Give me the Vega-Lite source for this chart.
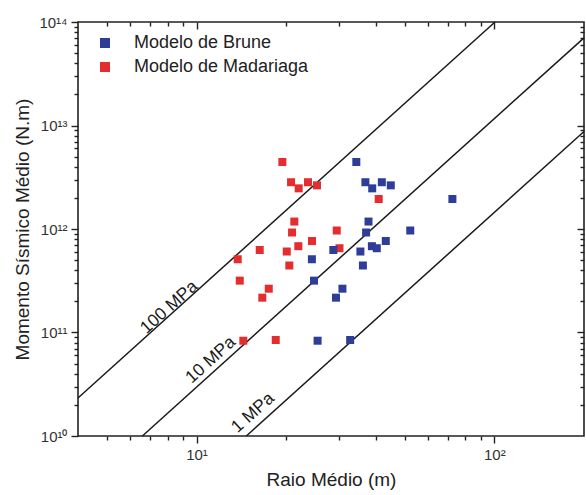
{
  "$schema": "https://vega.github.io/schema/vega-lite/v6.json",
  "width": 506,
  "height": 414,
  "autosize": "none",
  "padding": {"left": 78, "top": 22, "right": 2, "bottom": 59},
  "background": "white",
  "config": {
    "font": "Liberation Sans",
    "view": {"stroke": "#222", "strokeWidth": 1.6},
    "axis": {"grid": false, "domain": false, "tickColor": "#222", "tickWidth": 1.4, "labelColor": "#333", "titleColor": "#222", "titleFontWeight": "normal"}
  },
  "datasets": {
    "pts": [
      {"model": "Modelo de Madariaga", "r": 19.42, "M": 4.44e12},
      {"model": "Modelo de Madariaga", "r": 20.77, "M": 2.83e12},
      {"model": "Modelo de Madariaga", "r": 22.03, "M": 2.47e12},
      {"model": "Modelo de Madariaga", "r": 23.68, "M": 2.83e12},
      {"model": "Modelo de Madariaga", "r": 25.38, "M": 2.64e12},
      {"model": "Modelo de Madariaga", "r": 40.9, "M": 1.95e12},
      {"model": "Modelo de Madariaga", "r": 21.3, "M": 1.18e12},
      {"model": "Modelo de Madariaga", "r": 20.93, "M": 9.25e11},
      {"model": "Modelo de Madariaga", "r": 29.57, "M": 9.67e11},
      {"model": "Modelo de Madariaga", "r": 24.42, "M": 7.66e11},
      {"model": "Modelo de Madariaga", "r": 21.97, "M": 6.82e11},
      {"model": "Modelo de Madariaga", "r": 30.2, "M": 6.52e11},
      {"model": "Modelo de Madariaga", "r": 16.3, "M": 6.27e11},
      {"model": "Modelo de Madariaga", "r": 20.09, "M": 6.06e11},
      {"model": "Modelo de Madariaga", "r": 13.75, "M": 5.1e11},
      {"model": "Modelo de Madariaga", "r": 20.49, "M": 4.44e11},
      {"model": "Modelo de Madariaga", "r": 13.97, "M": 3.17e11},
      {"model": "Modelo de Madariaga", "r": 17.48, "M": 2.65e11},
      {"model": "Modelo de Madariaga", "r": 16.63, "M": 2.17e11},
      {"model": "Modelo de Madariaga", "r": 14.36, "M": 8.33e10},
      {"model": "Modelo de Madariaga", "r": 18.45, "M": 8.46e10},
      {"model": "Modelo de Brune", "r": 34.4, "M": 4.44e12},
      {"model": "Modelo de Brune", "r": 36.9, "M": 2.83e12},
      {"model": "Modelo de Brune", "r": 38.9, "M": 2.47e12},
      {"model": "Modelo de Brune", "r": 41.9, "M": 2.83e12},
      {"model": "Modelo de Brune", "r": 44.9, "M": 2.64e12},
      {"model": "Modelo de Brune", "r": 72.3, "M": 1.95e12},
      {"model": "Modelo de Brune", "r": 37.8, "M": 1.18e12},
      {"model": "Modelo de Brune", "r": 37.1, "M": 9.25e11},
      {"model": "Modelo de Brune", "r": 52.2, "M": 9.67e11},
      {"model": "Modelo de Brune", "r": 43.2, "M": 7.66e11},
      {"model": "Modelo de Brune", "r": 38.8, "M": 6.82e11},
      {"model": "Modelo de Brune", "r": 40.3, "M": 6.52e11},
      {"model": "Modelo de Brune", "r": 28.8, "M": 6.27e11},
      {"model": "Modelo de Brune", "r": 35.5, "M": 6.06e11},
      {"model": "Modelo de Brune", "r": 24.4, "M": 5.1e11},
      {"model": "Modelo de Brune", "r": 36.2, "M": 4.44e11},
      {"model": "Modelo de Brune", "r": 24.8, "M": 3.17e11},
      {"model": "Modelo de Brune", "r": 30.9, "M": 2.65e11},
      {"model": "Modelo de Brune", "r": 29.4, "M": 2.17e11},
      {"model": "Modelo de Brune", "r": 25.5, "M": 8.33e10},
      {"model": "Modelo de Brune", "r": 32.8, "M": 8.46e10}
    ],
    "lines": [
      {"stress": "100 MPa", "r": 4, "M": 2.33e10},
      {"stress": "100 MPa", "r": 100.5, "M": 1e14},
      {"stress": "10 MPa", "r": 6.58, "M": 1e10},
      {"stress": "10 MPa", "r": 200, "M": 7.03e13},
      {"stress": "1 MPa", "r": 14.7, "M": 1e10},
      {"stress": "1 MPa", "r": 200, "M": 8.75e12}
    ],
    "labels": [
      {"label": "100 MPa", "r": 8.1, "M": 1.75e11},
      {"label": "10 MPa", "r": 11.16, "M": 5.42e10},
      {"label": "1 MPa", "r": 15.48, "M": 1.67e10}
    ]
  },
  "resolve": {"axis": {"x": "independent", "y": "independent"}},
  "layer": [
    {
      "data": {"name": "lines"},
      "mark": {"type": "line", "color": "#1a1a1a", "strokeWidth": 1.5},
      "encoding": {
        "x": {"field": "r", "type": "quantitative", "scale": {"type": "log", "domain": [4, 200], "nice": false},
              "axis": {"orient": "bottom", "values": [5,6,7,8,9,20,30,40,50,60,70,80,90], "labels": false, "tickSize": 4, "title": null}},
        "y": {"field": "M", "type": "quantitative", "scale": {"type": "log", "domain": [1e10, 1e14], "nice": false},
              "axis": {"orient": "left", "values": [2e10,3e10,4e10,5e10,6e10,7e10,8e10,9e10,2e11,3e11,4e11,5e11,6e11,7e11,8e11,9e11,2e12,3e12,4e12,5e12,6e12,7e12,8e12,9e12,2e13,3e13,4e13,5e13,6e13,7e13,8e13,9e13], "labels": false, "tickSize": 4, "title": null}},
        "detail": {"field": "stress", "type": "nominal"}
      }
    },
    {
      "data": {"name": "lines"},
      "mark": {"type": "line", "opacity": 0},
      "encoding": {
        "x": {"field": "r", "type": "quantitative",
              "axis": {"orient": "top", "values": [5,6,7,8,9,20,30,40,50,60,70,80,90], "labels": false, "tickSize": -4, "title": null}},
        "y": {"field": "M", "type": "quantitative",
              "axis": {"orient": "right", "values": [2e10,3e10,4e10,5e10,6e10,7e10,8e10,9e10,2e11,3e11,4e11,5e11,6e11,7e11,8e11,9e11,2e12,3e12,4e12,5e12,6e12,7e12,8e12,9e12,2e13,3e13,4e13,5e13,6e13,7e13,8e13,9e13], "labels": false, "tickSize": -4, "title": null}},
        "detail": {"field": "stress", "type": "nominal"}
      }
    },
    {
      "data": {"name": "labels"},
      "mark": {"type": "text", "angle": -42, "fontSize": 17.5, "color": "#1a1a1a", "align": "center", "baseline": "middle"},
      "encoding": {
        "x": {"field": "r", "type": "quantitative",
              "axis": {"orient": "top", "values": [10, 100], "labels": false, "tickSize": -7, "title": null}},
        "y": {"field": "M", "type": "quantitative",
              "axis": {"orient": "right", "values": [1e11, 1e12, 1e13], "labels": false, "tickSize": -7, "title": null}},
        "text": {"field": "label", "type": "nominal"}
      }
    },
    {
      "data": {"name": "pts"},
      "mark": {"type": "point", "shape": "square", "filled": true, "size": 64, "opacity": 1},
      "encoding": {
        "x": {"field": "r", "type": "quantitative",
              "axis": {"orient": "bottom", "values": [10, 100], "tickSize": 7, "labelFontSize": 15, "labelPadding": 4,
                       "labelExpr": "datum.value < 50 ? '10¹' : '10²'", "title": "Raio Médio (m)", "titleFontSize": 19, "titlePadding": 8}},
        "y": {"field": "M", "type": "quantitative",
              "axis": {"orient": "left", "values": [1e10, 1e11, 1e12, 1e13, 1e14], "tickSize": 7, "labelFontSize": 15, "labelPadding": 4,
                       "labelExpr": "datum.value < 5e10 ? '10¹⁰' : datum.value < 5e11 ? '10¹¹' : datum.value < 5e12 ? '10¹²' : datum.value < 5e13 ? '10¹³' : '10¹⁴'",
                       "title": "Momento Sísmico Médio (N.m)", "titleFontSize": 19, "titlePadding": 6}},
        "color": {"field": "model", "type": "nominal",
                  "scale": {"domain": ["Modelo de Brune", "Modelo de Madariaga"], "range": ["#2E3D98", "#E32D2F"]},
                  "legend": {"orient": "none", "legendX": 18, "legendY": 12, "title": null, "symbolType": "square", "symbolSize": 100,
                             "symbolStrokeWidth": 0, "labelFontSize": 18, "labelColor": "#222", "labelLimit": 400, "labelOffset": 20, "rowPadding": 6, "padding": 0}}
      }
    }
  ]
}
